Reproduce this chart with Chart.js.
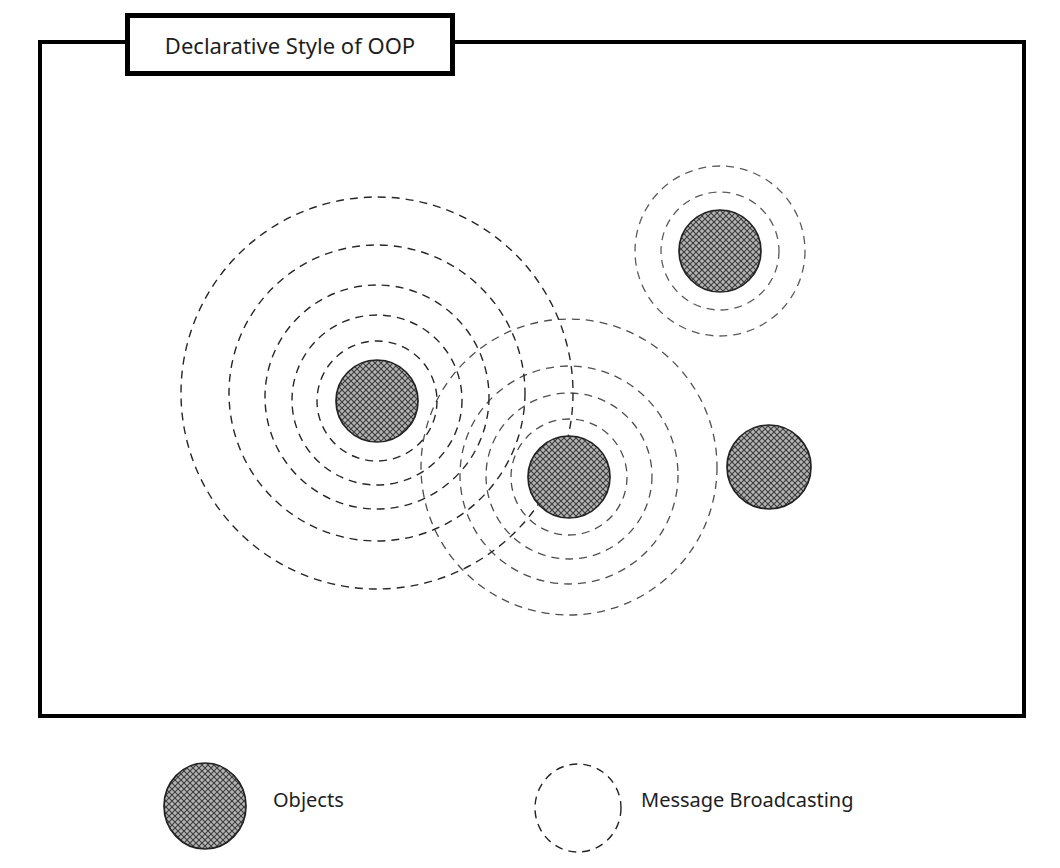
<!DOCTYPE html>
<html>
<head>
<meta charset="utf-8">
<script src="https://cdn.jsdelivr.net/npm/chart.js@4.4.0/dist/chart.umd.min.js"></script>
<style>
  html, body { margin: 0; padding: 0; background: #fff; }
  body { width: 1060px; height: 868px; position: relative; overflow: hidden;
         font-family: "Noto Sans", sans-serif; color: #1e1e1e; }
  #frame { position: absolute; left: 38px; top: 40px; width: 988px; height: 678px;
           border: 4px solid #000; box-sizing: border-box; }
  #title { position: absolute; left: 125px; top: 13px; width: 330px; height: 63px;
           border: 5px solid #000; box-sizing: border-box; background: #fff; z-index: 3;
           display: flex; align-items: center; justify-content: center; font-size: 22px; }
  #chart { position: absolute; left: 0; top: 0; z-index: 2; }
  .swatch { position: absolute; }
  .legend-text { position: absolute; font-size: 20px; line-height: 24px; }
</style>
</head>
<body>
<div id="frame"></div>
<div id="title">Declarative Style of OOP</div>
<canvas id="chart" width="1060" height="868"></canvas>

<canvas class="swatch" id="sw-objects" width="90" height="94" style="left:160px;top:759px"></canvas>
<div class="legend-text" style="left:273px;top:788px">Objects</div>
<canvas class="swatch" id="sw-broadcast" width="94" height="94" style="left:531px;top:761px"></canvas>
<div class="legend-text" style="left:641px;top:788px">Message Broadcasting</div>

<script>
// objects (centre + radius, in page units)
const objectLabels = ["Object 1", "Object 2", "Object 3", "Object 4"];
const objectX = [377, 569, 720, 769];
const objectY = [401, 477, 251, 467];
const objectR = [41, 41, 41, 42];

// broadcasting rings: radius and centre y of each ring (x = its object's x)
const ringsA = [60, 85, 112, 148, 196];
const ringsAY = [401, 400, 397, 393, 393];
const ringsB = [58, 83, 109, 148];
const ringsBY = [477, 476, 475, 467];
const ringsC = [59, 85];
const ringsCY = [251, 251];

const PAGE_W = 1060, PAGE_H = 868;

function hatchPattern(ctx) {
  const c = document.createElement("canvas");
  c.width = 6; c.height = 6;
  const g = c.getContext("2d");
  g.fillStyle = "#b4b4b4";
  g.fillRect(0, 0, 6, 6);
  g.strokeStyle = "#3c3c3c";
  g.lineWidth = 1.1;
  g.beginPath();
  g.moveTo(-1, 7); g.lineTo(7, -1);
  g.moveTo(-1, -1); g.lineTo(7, 7);
  g.stroke();
  return ctx.createPattern(c, "repeat");
}

function ringSet(cx, ys, radii, color, width, label) {
  return {
    label,
    data: radii.map((r, i) => ({ x: cx, y: ys[i], r })),
    backgroundColor: "rgba(0,0,0,0)",
    borderColor: color,
    borderWidth: width,
    dashed: true,
    order: 2,
  };
}

// dashed outline for ring datasets
const dashPlugin = {
  id: "dash",
  beforeDatasetDraw(chart, args) {
    if (chart.data.datasets[args.index].dashed) chart.ctx.setLineDash([8, 6]);
  },
  afterDatasetDraw(chart) { chart.ctx.setLineDash([]); },
};

const cv = document.getElementById("chart");
const pattern = hatchPattern(cv.getContext("2d"));

new Chart(cv, {
  type: "bubble",
  data: {
    datasets: [
      {
        label: "Objects",
        data: objectX.map((x, i) => ({ x, y: objectY[i], r: objectR[i] })),
        backgroundColor: pattern,
        borderColor: "#222",
        borderWidth: 1.7,
        order: 1,
      },
      ringSet(objectX[0], ringsAY, ringsA, "#262626", 1.4, "Rings 1"),
      ringSet(objectX[1], ringsBY, ringsB, "#4e4e4e", 1.3, "Rings 2"),
      ringSet(objectX[2], ringsCY, ringsC, "#5a5a5a", 1.3, "Rings 3"),
    ],
  },
  options: {
    responsive: false,
    animation: false,
    events: [],
    layout: { padding: 0, autoPadding: false },
    plugins: { legend: { display: false }, tooltip: { enabled: false } },
    scales: {
      x: { type: "linear", min: 0, max: PAGE_W, display: false },
      y: { type: "linear", min: 0, max: PAGE_H, reverse: true, display: false },
    },
  },
  plugins: [dashPlugin],
});

// legend swatches
(function () {
  const a = document.getElementById("sw-objects").getContext("2d");
  a.fillStyle = hatchPattern(a);
  a.strokeStyle = "#222";
  a.lineWidth = 1.7;
  a.beginPath();
  a.ellipse(45, 47, 41, 43, 0, 0, Math.PI * 2);
  a.fill(); a.stroke();

  const b = document.getElementById("sw-broadcast").getContext("2d");
  b.strokeStyle = "#222";
  b.lineWidth = 1.4;
  b.setLineDash([8, 6]);
  b.beginPath();
  b.ellipse(47, 47, 43, 44, 0, 0, Math.PI * 2);
  b.stroke();
})();
</script>
</body>
</html>
